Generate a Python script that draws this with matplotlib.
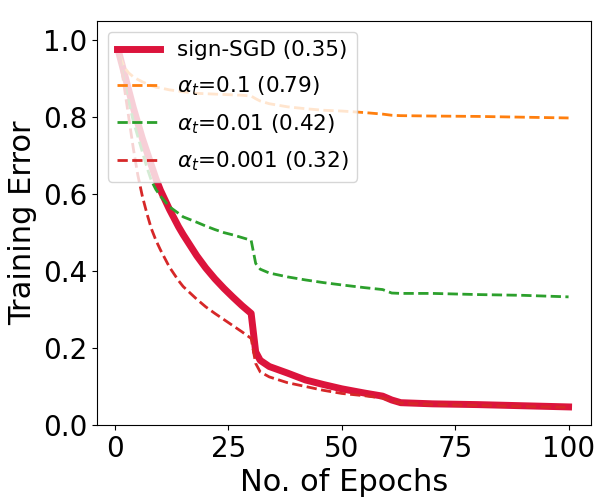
import numpy as np
import matplotlib
matplotlib.use("Agg")
from matplotlib import pyplot as plt

# values at these epochs
epochs = [1, 2, 3, 4, 5, 6, 7, 8, 9, 10, 12, 14, 15, 18, 20, 22, 24, 26, 28,
          30, 31, 32, 34, 38, 42, 46, 50, 55, 59, 61, 63, 70, 80, 90, 100]

sign_sgd = [0.96, 0.915, 0.87, 0.825, 0.785, 0.745, 0.71, 0.675, 0.64, 0.61,
            0.56, 0.515, 0.495, 0.44, 0.408, 0.38, 0.355, 0.332, 0.31, 0.29,
            0.19, 0.168, 0.152, 0.135, 0.117, 0.105, 0.094, 0.083, 0.075,
            0.065, 0.058, 0.055, 0.053, 0.050, 0.047]

alpha_01 = [0.96, 0.93, 0.915, 0.905, 0.898, 0.892, 0.887, 0.882, 0.878,
            0.876, 0.871, 0.868, 0.866, 0.862, 0.861, 0.86, 0.859, 0.858,
            0.857, 0.855, 0.848, 0.842, 0.835, 0.827, 0.822, 0.818, 0.816,
            0.812, 0.808, 0.805, 0.804, 0.803, 0.802, 0.800, 0.798]

alpha_001 = [0.96, 0.89, 0.84, 0.79, 0.75, 0.71, 0.67, 0.635, 0.612, 0.595,
             0.567, 0.55, 0.541, 0.527, 0.517, 0.508, 0.5, 0.494, 0.487,
             0.48, 0.42, 0.405, 0.395, 0.385, 0.377, 0.37, 0.364, 0.357,
             0.352, 0.343, 0.342, 0.342, 0.339, 0.337, 0.333]

alpha_0001 = [0.96, 0.88, 0.80, 0.72, 0.65, 0.595, 0.55, 0.51, 0.48, 0.455,
              0.41, 0.375, 0.36, 0.327, 0.307, 0.29, 0.274, 0.258, 0.242,
              0.225, 0.16, 0.138, 0.125, 0.11, 0.10, 0.09, 0.082, 0.076,
              0.07, 0.062, 0.057, 0.053, 0.051, 0.048, 0.046]

fig = plt.figure(figsize=(6, 5), dpi=100)
ax = fig.add_axes([0.162, 0.15, 0.823, 0.808])

ax.plot(epochs, sign_sgd, color='crimson', lw=5, label='sign-SGD (0.35)')
ax.plot(epochs, alpha_01, color='C1', lw=2, ls='--', label=r'$\alpha_t$=0.1 (0.79)')
ax.plot(epochs, alpha_001, color='C2', lw=2, ls='--', label=r'$\alpha_t$=0.01 (0.42)')
ax.plot(epochs, alpha_0001, color='C3', lw=2, ls='--', label=r'$\alpha_t$=0.001 (0.32)')

ax.set_ylim(0, 1.05)
ax.set_xticks([0, 25, 50, 75, 100])
ax.set_yticks([0.0, 0.2, 0.4, 0.6, 0.8, 1.0])
ax.tick_params(labelsize=20)
ax.set_xlabel('No. of Epochs', fontsize=22)
ax.set_ylabel('Training Error', fontsize=22)
ax.legend(loc='upper left', fontsize=15.5, handlelength=2.0, labelspacing=0.65)

plt.savefig('out.png')
